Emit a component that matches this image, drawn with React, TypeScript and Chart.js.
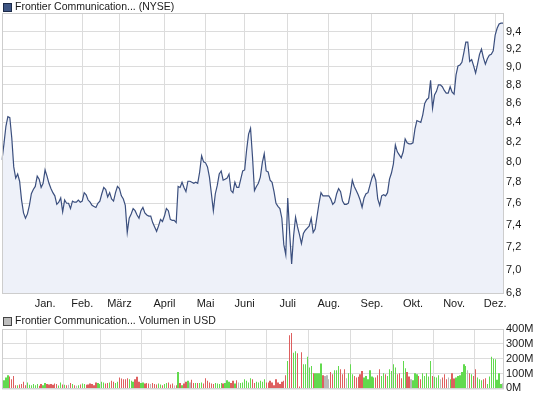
import React, { useEffect, useRef } from 'react';
import { Chart, registerables } from 'chart.js';

Chart.register(...registerables);

// ---------------- data ----------------
const monthNames = ['Dez.', 'Jan.', 'Feb.', 'März', 'April', 'Mai', 'Juni', 'Juli', 'Aug.', 'Sep.', 'Okt.', 'Nov.', 'Dez.'];
// trading days shown per month (first entry = December of the previous year)
const monthTradingDays = [22, 19, 19, 23, 21, 20, 22, 21, 22, 21, 21, 21, 5];

const priceTickValues = [6.8, 7.0, 7.2, 7.4, 7.6, 7.8, 8.0, 8.2, 8.4, 8.6, 8.8, 9.0, 9.2, 9.4];
const volumeTickValues = [0, 100, 200, 300, 400];

const closePrices = [
  8.02, 8.18, 8.36, 8.46, 8.45, 8.24, 7.95, 7.84, 7.88, 7.81,
  7.63, 7.51, 7.46, 7.50, 7.58, 7.69, 7.73, 7.76, 7.86, 7.83,
  7.75, 7.79, 7.92, 7.86, 7.79, 7.74, 7.70, 7.67, 7.59, 7.61,
  7.65, 7.52, 7.63, 7.60, 7.60, 7.55, 7.62, 7.61, 7.61, 7.63,
  7.61, 7.62, 7.70, 7.68, 7.63, 7.61, 7.58, 7.57, 7.56, 7.60,
  7.62, 7.69, 7.75, 7.73, 7.66, 7.70, 7.64, 7.62, 7.70, 7.76,
  7.74, 7.67, 7.64, 7.58, 7.33, 7.46, 7.50, 7.55, 7.53, 7.49,
  7.46, 7.53, 7.56, 7.51, 7.49, 7.48, 7.48, 7.42, 7.38, 7.34,
  7.39, 7.45, 7.43, 7.48, 7.55, 7.53, 7.45, 7.44, 7.44, 7.42,
  7.76, 7.75, 7.80, 7.75, 7.71, 7.81, 7.81, 7.80, 7.79, 7.80,
  7.79, 7.90, 8.06, 8.00, 7.99, 7.95, 7.85, 7.69, 7.53, 7.69,
  7.77, 7.88, 7.91, 7.82, 7.83, 7.84, 7.88, 7.72, 7.70, 7.80,
  7.75, 7.75, 7.83, 7.91, 7.92, 8.12, 8.28, 8.34, 8.05, 7.72,
  7.76, 7.79, 7.85, 7.99, 8.08, 7.91, 7.90, 7.82, 7.80, 7.71,
  7.60, 7.57, 7.55, 7.46, 7.22, 7.13, 7.65, 7.32, 7.05, 7.30,
  7.47, 7.38, 7.31, 7.23, 7.32, 7.35, 7.37, 7.39, 7.46, 7.33,
  7.36, 7.48, 7.60, 7.70, 7.67, 7.67, 7.67, 7.67, 7.64, 7.59,
  7.61, 7.69, 7.74, 7.71, 7.62, 7.59, 7.59, 7.60, 7.69, 7.82,
  7.76, 7.72, 7.68, 7.63, 7.56, 7.65, 7.69, 7.70, 7.77, 7.84,
  7.88, 7.82, 7.64, 7.58, 7.67, 7.68, 7.67, 7.70, 7.83, 7.89,
  7.98, 8.17, 8.10, 8.07, 8.04, 8.10, 8.23, 8.19, 8.18, 8.18,
  8.19, 8.33, 8.42, 8.41, 8.40, 8.48, 8.60, 8.64, 8.66, 8.85,
  8.55, 8.69, 8.73, 8.80, 8.80, 8.78, 8.74, 8.71, 8.71, 8.78,
  8.72, 8.70, 8.91, 9.01, 9.02, 9.05, 9.16, 9.28, 9.28, 9.06,
  9.08, 9.01, 8.93, 9.03, 9.14, 9.20, 9.10, 9.03, 9.09, 9.13,
  9.14, 9.18, 9.36, 9.44, 9.49, 9.50, 9.50,
];

// volume in millions of USD
const volumesMUSD = [
  51, 55, 73, 89, 80, 62, 84, 22,
  22, 27, 29, 44, 22, 40, 24, 22, 29, 22, 29, 18, 29, 22,
  36, 29, 27, 29, 24, 33, 29, 20, 40, 27, 24, 22, 24, 36, 29, 22, 18, 22, 27,
  33, 29, 24, 27, 33, 29, 22, 40, 36, 29, 44, 40, 33, 36, 40, 51, 44, 36, 44,
  73, 67, 62, 62, 69, 62, 51, 44, 62, 78, 44, 36, 40, 33, 36, 33, 29, 36, 29, 27, 33, 27, 22,
  29, 36, 40, 27, 33, 20, 22, 111, 36, 22, 33, 44, 51, 40, 58, 36, 36, 36, 36, 40, 33,
  69, 51, 40, 33, 29, 36, 33, 29, 36, 33, 36, 55, 44, 36, 51, 33, 55, 40, 36, 40,
  62, 51, 40, 69, 62, 36, 44, 40, 51, 44, 62, 40, 40, 51, 40, 22, 62, 40, 29, 44, 51, 89,
  184, 358, 373, 240, 251, 236, 13, 244, 162, 162,
  213, 140, 151, 102, 102, 102, 102, 167, 89, 84,
  89, 62, 111, 96, 122, 122, 151, 129, 96, 129,
  69, 102, 162, 96, 84, 73, 78, 96, 118, 73, 84,
  62, 122, 80, 73, 73, 89, 129, 84, 102, 96,
  84, 129, 118, 162, 140, 96, 102, 69, 184, 136,
  111, 80, 62, 55, 102, 96, 84, 62, 102, 84,
  102, 80, 184, 84, 78, 73,
  89, 62, 73, 96, 62,
  73, 62, 102, 67, 73, 84, 89, 111, 162, 151,
  122, 102, 96, 84, 129, 73, 62, 55, 62, 69,
  29, 80, 213, 200, 196, 58, 102, 29, 35,
];

// ---------------- derived ----------------
const labels: string[] = [];
const monthStartIdx: number[] = [];
const monthStartName: string[] = [];
monthTradingDays.forEach((n, m) => {
  if (m > 0) {
    monthStartIdx.push(labels.length);
    monthStartName.push(monthNames[m]);
  }
  for (let d = 1; d <= n; d++) labels.push(`${monthNames[m]} ${m === 0 ? 2009 : 2010} (${d})`);
});

const GREEN = '#62da4e';
const RED = '#de5f5f';
const GRAY = '#b8b8b8';
const volumeColors = volumesMUSD.map((_, i) => {
  if (i === 0) return GREEN;
  const d = closePrices[i] - closePrices[i - 1];
  if (Math.abs(d) < 0.005) return GRAY;
  return d > 0 ? GREEN : RED;
});

const FONT = "'Liberation Sans', Arial, sans-serif";
const GRID = '#dcdcdc';
const FRAME = '#cdcdcd';
const TEXT = '#1a1a1a';

const framePlugin = {
  id: 'frame',
  afterDatasetsDraw(chart: any) {
    const { ctx, chartArea: a } = chart;
    ctx.save();
    ctx.strokeStyle = FRAME;
    ctx.lineWidth = 1;
    ctx.strokeRect(a.left + 0.5, a.top + 0.5, a.right - a.left, a.bottom - a.top);
    ctx.restore();
  },
};

// snap the library-computed bar edges to whole pixels so the thin bars stay crisp
const crispBars = {
  id: 'crispBars',
  beforeDatasetsDraw(chart: any) {
    chart.getSortedVisibleDatasetMetas().forEach((meta: any) => {
      if (meta.type !== 'bar') return;
      meta.data.forEach((el: any) => {
        const l = Math.round(el.x - el.width / 2);
        const r = Math.max(l + 1, Math.round(el.x + el.width / 2));
        el.x = (l + r) / 2;
        el.width = r - l;
      });
    });
  },
};

const legendPlugin = {
  id: 'boxLegend',
  afterDraw(chart: any, _args: any, opts: any) {
    const { ctx } = chart;
    ctx.save();
    ctx.fillStyle = opts.fill;
    ctx.fillRect(3, opts.y, 8, 8);
    ctx.strokeStyle = opts.stroke;
    ctx.lineWidth = 1;
    ctx.strokeRect(3.5, opts.y + 0.5, 8, 8);
    ctx.fillStyle = TEXT;
    ctx.font = `10.5px ${FONT}`;
    ctx.textBaseline = 'middle';
    ctx.textAlign = 'left';
    ctx.fillText(opts.text, 15, opts.y + 4.5);
    ctx.restore();
  },
};

function xScale(showLabels: boolean, height: number) {
  return {
    type: 'category' as const,
    offset: false,
    afterBuildTicks: (s: any) => {
      s.ticks = monthStartIdx.map((i) => ({ value: i }));
    },
    afterFit: (s: any) => {
      s.height = height;
    },
    ticks: {
      display: showLabels,
      autoSkip: false,
      maxRotation: 0,
      padding: 4,
      color: TEXT,
      font: { family: FONT, size: 11 },
      callback: (v: any) => {
        const k = monthStartIdx.indexOf(Number(v));
        return k >= 0 ? monthStartName[k] : '';
      },
    },
    grid: { color: GRID, drawTicks: false, lineWidth: 1 },
    border: { display: false },
  };
}

export default function App() {
  const priceRef = useRef<HTMLCanvasElement | null>(null);
  const volRef = useRef<HTMLCanvasElement | null>(null);

  useEffect(() => {
    const priceChart = new Chart(priceRef.current as HTMLCanvasElement, {
      type: 'line',
      data: {
        labels,
        datasets: [
          {
            data: closePrices,
            borderColor: '#3b4f7e',
            borderWidth: 1.2,
            backgroundColor: '#eef1f9',
            fill: 'start',
            pointRadius: 0,
            tension: 0,
          },
        ],
      },
      options: {
        responsive: false,
        animation: false,
        events: [],
        layout: { padding: { left: 2, top: 13, right: 0, bottom: 0 } },
        plugins: {
          legend: { display: false },
          tooltip: { enabled: false },
          boxLegend: { text: 'Frontier Communication... (NYSE)', fill: '#3e5583', stroke: '#1c2a48', y: 3 },
        } as any,
        scales: {
          x: xScale(true, 18) as any,
          y: {
            type: 'logarithmic',
            position: 'right',
            min: 6.8,
            max: 9.62,
            afterBuildTicks: (s: any) => {
              s.ticks = priceTickValues.map((v) => ({ value: v }));
            },
            afterFit: (s: any) => {
              s.width = 42;
            },
            ticks: {
              padding: 3,
              color: TEXT,
              font: { family: FONT, size: 11 },
              callback: (v: any) => Number(v).toFixed(1).replace('.', ','),
            },
            grid: { color: GRID, drawTicks: false },
            border: { display: false },
          } as any,
        },
      },
      plugins: [framePlugin, legendPlugin],
    });

    const volChart = new Chart(volRef.current as HTMLCanvasElement, {
      type: 'bar',
      data: {
        labels,
        datasets: [
          {
            data: volumesMUSD,
            backgroundColor: volumeColors,
            borderWidth: 0,
            barPercentage: 0.66,
            categoryPercentage: 1,
          },
        ],
      },
      options: {
        responsive: false,
        animation: false,
        events: [],
        layout: { padding: { left: 2, top: 18, right: 0, bottom: 0 } },
        plugins: {
          legend: { display: false },
          tooltip: { enabled: false },
          boxLegend: { text: 'Frontier Communication... Volumen in USD', fill: '#bdbdbd', stroke: '#444444', y: 6 },
        } as any,
        scales: {
          x: xScale(false, 9) as any,
          y: {
            type: 'linear',
            position: 'right',
            min: 0,
            max: 400,
            afterBuildTicks: (s: any) => {
              s.ticks = volumeTickValues.map((v) => ({ value: v }));
            },
            afterFit: (s: any) => {
              s.width = 42;
            },
            ticks: {
              padding: 3,
              color: TEXT,
              font: { family: FONT, size: 11 },
              callback: (v: any) => `${v}M`,
            },
            grid: { color: GRID, drawTicks: false },
            border: { display: false },
          } as any,
        },
      },
      plugins: [crispBars, framePlugin, legendPlugin],
    });

    return () => {
      priceChart.destroy();
      volChart.destroy();
    };
  }, []);

  return (
    <div style={{ position: 'absolute', left: 0, top: 0, width: 545, height: 398, background: '#fff' }}>
      <canvas ref={priceRef} width={545} height={311} style={{ position: 'absolute', left: 0, top: 0 }} />
      <canvas ref={volRef} width={545} height={87} style={{ position: 'absolute', left: 0, top: 311 }} />
    </div>
  );
}
